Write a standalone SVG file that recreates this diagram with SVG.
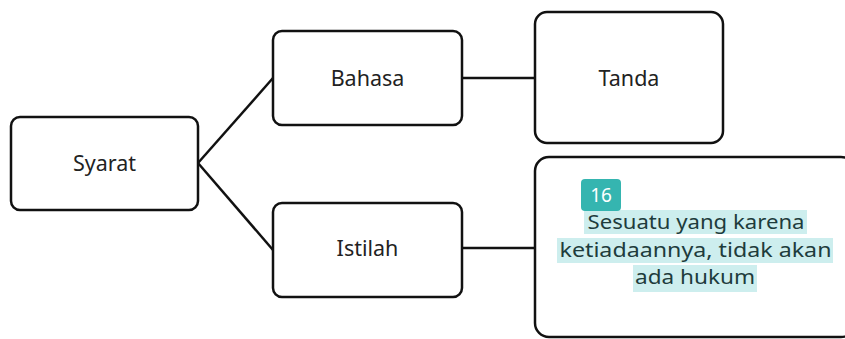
<svg xmlns="http://www.w3.org/2000/svg" width="845" height="339" viewBox="0 0 845 339">
<style>
.box{fill:#fff;stroke:#111;stroke-width:2.5}
.lbl{font-family:"Noto Sans","Open Sans",sans-serif;font-size:21.5px;fill:#222;text-anchor:middle}
.con{stroke:#111;stroke-width:2.5;fill:none}
.hl{fill:#cdeeee}
.def{font-family:"Noto Sans","Open Sans",sans-serif;font-size:20px;fill:#1e3c3c;text-anchor:middle}
</style>
<rect width="845" height="339" fill="#fff"/>
<g id="connectors">
<path class="con" d="M198,163 L273,78"/>
<path class="con" d="M198,163 L273,250"/>
<path class="con" d="M462,78 L535,78"/>
<path class="con" d="M462,248 L535,248"/>
</g>
<g id="syarat">
<rect class="box" x="11" y="117" width="187" height="93" rx="9"/>
<text class="lbl" x="104.5" y="171">Syarat</text>
</g>
<g id="bahasa">
<rect class="box" x="273" y="31" width="189" height="94" rx="9"/>
<text class="lbl" x="367.5" y="86">Bahasa</text>
</g>
<g id="tanda">
<rect class="box" x="535" y="12" width="188" height="131" rx="12"/>
<text class="lbl" x="629" y="86">Tanda</text>
</g>
<g id="istilah">
<rect class="box" x="273" y="203" width="189" height="94" rx="9"/>
<text class="lbl" x="367.5" y="256">Istilah</text>
</g>
<g id="definisi">
<rect class="box" x="535" y="157" width="320" height="180" rx="14"/>
<rect class="hl" x="584" y="210" width="223" height="24"/>
<rect class="hl" x="557" y="238" width="276" height="25"/>
<rect class="hl" x="633" y="265" width="124" height="27"/>
<text class="def" x="696" y="229" textLength="217" lengthAdjust="spacingAndGlyphs">Sesuatu yang karena</text>
<text class="def" x="695.5" y="257" textLength="272" lengthAdjust="spacingAndGlyphs">ketiadaannya, tidak akan</text>
<text class="def" x="695" y="284" textLength="120" lengthAdjust="spacingAndGlyphs">ada hukum</text>
<rect x="581" y="179" width="40" height="32" rx="4" fill="#35b5b0"/>
<text x="601" y="202" font-family="'Noto Sans','Open Sans',sans-serif" font-size="19" fill="#fff" text-anchor="middle">16</text>
</g>
</svg>
